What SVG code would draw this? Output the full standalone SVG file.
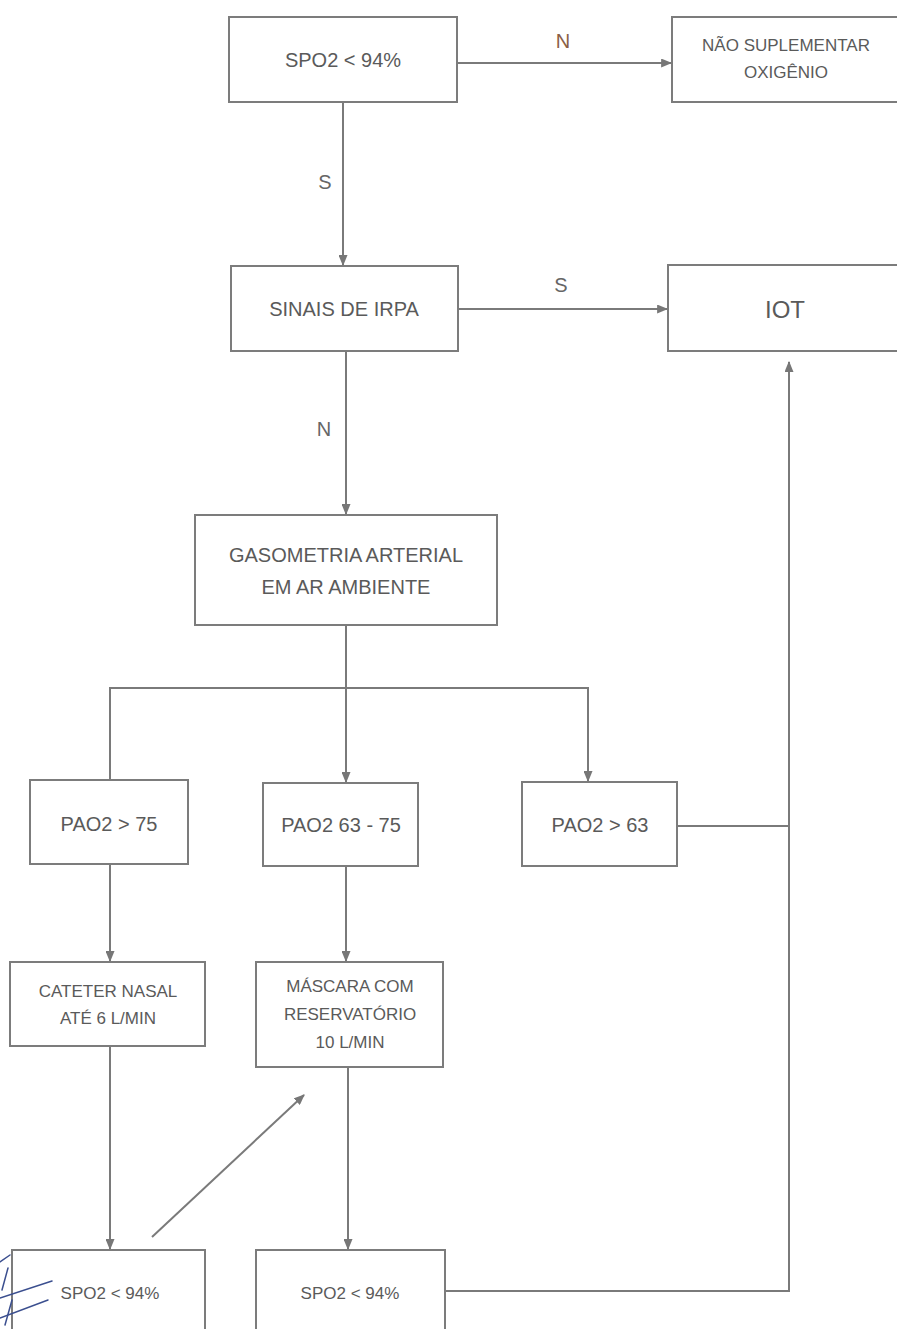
<svg xmlns="http://www.w3.org/2000/svg" width="897" height="1329" viewBox="0 0 897 1329">
<defs>
<style>
.box{fill:#fff;stroke:#7c7c7c;stroke-width:2}
.t{font-family:"Liberation Sans",Arial,sans-serif;fill:#5a5a5a;text-anchor:middle}
.m{font-size:20px}
.s{font-size:17px}
.c{stroke:#7a7a7a;stroke-width:2;fill:none}
.lbl{font-family:"Liberation Sans",Arial,sans-serif;font-size:20px;fill:#666;text-anchor:middle}
</style>
<marker id="ah" viewBox="0 0 10 10" refX="9" refY="5" markerWidth="11" markerHeight="9" orient="auto" markerUnits="userSpaceOnUse" preserveAspectRatio="none">
<path d="M0,0 L10,5 L0,10 z" fill="#777"/>
</marker>
</defs>
<rect width="897" height="1329" fill="#fff"/>
<g id="connectors">
<line class="c" x1="457" y1="63" x2="671" y2="63" marker-end="url(#ah)"/>
<line class="c" x1="343" y1="102" x2="343" y2="265" marker-end="url(#ah)"/>
<line class="c" x1="458" y1="309" x2="667" y2="309" marker-end="url(#ah)"/>
<line class="c" x1="346" y1="351" x2="346" y2="514" marker-end="url(#ah)"/>
<line class="c" x1="346" y1="625" x2="346" y2="782" marker-end="url(#ah)"/>
<polyline class="c" points="110,779 110,688 588,688 588,781" marker-end="url(#ah)"/>
<polyline class="c" points="677,826 789,826"/>
<polyline class="c" points="446,1291 789,1291 789,362" marker-end="url(#ah)"/>
<line class="c" x1="110" y1="864" x2="110" y2="961" marker-end="url(#ah)"/>
<line class="c" x1="346" y1="866" x2="346" y2="961" marker-end="url(#ah)"/>
<line class="c" x1="110" y1="1046" x2="110" y2="1249" marker-end="url(#ah)"/>
<line class="c" x1="348" y1="1067" x2="348" y2="1249" marker-end="url(#ah)"/>
<line class="c" x1="152" y1="1237" x2="304" y2="1095" marker-end="url(#ah)"/>
<text class="lbl" x="563" y="48" style="fill:#8b5e45">N</text>
<text class="lbl" x="325" y="189">S</text>
<text class="lbl" x="561" y="292">S</text>
<text class="lbl" x="324" y="436">N</text>
</g>
<g id="n1"><rect class="box" x="229" y="17" width="228" height="85"/><text class="t m" x="343" y="67">SPO2 &lt; 94%</text></g>
<g id="n2"><rect class="box" x="672" y="17" width="230" height="85"/><text class="t s" x="786" y="51">NÃO SUPLEMENTAR</text><text class="t s" x="786" y="78">OXIGÊNIO</text></g>
<g id="n3"><rect class="box" x="231" y="266" width="227" height="85"/><text class="t m" x="344" y="316">SINAIS DE IRPA</text></g>
<g id="n4"><rect class="box" x="668" y="265" width="234" height="86"/><text class="t" x="785" y="318" style="font-size:24px">IOT</text></g>
<g id="n5"><rect class="box" x="195" y="515" width="302" height="110"/><text class="t m" x="346" y="562">GASOMETRIA ARTERIAL</text><text class="t m" x="346" y="594">EM AR AMBIENTE</text></g>
<g id="n6"><rect class="box" x="30" y="780" width="158" height="84"/><text class="t m" x="109" y="831">PAO2 &gt; 75</text></g>
<g id="n7"><rect class="box" x="263" y="783" width="155" height="83"/><text class="t m" x="341" y="832">PAO2 63 - 75</text></g>
<g id="n8"><rect class="box" x="522" y="782" width="155" height="84"/><text class="t m" x="600" y="832">PAO2 &gt; 63</text></g>
<g id="n9"><rect class="box" x="10" y="962" width="195" height="84"/><text class="t s" x="108" y="997">CATETER NASAL</text><text class="t s" x="108" y="1024">ATÉ 6 L/MIN</text></g>
<g id="n10"><rect class="box" x="256" y="962" width="187" height="105"/><text class="t s" x="350" y="992">MÁSCARA COM</text><text class="t s" x="350" y="1020">RESERVATÓRIO</text><text class="t s" x="350" y="1048">10 L/MIN</text></g>
<g id="n11"><rect class="box" x="12" y="1250" width="193" height="95"/><text class="t s" x="110" y="1299">SPO2 &lt; 94%</text></g>
<g id="n12"><rect class="box" x="256" y="1250" width="189" height="95"/><text class="t s" x="350" y="1299">SPO2 &lt; 94%</text></g>
<g id="scribble" stroke="#3b4f8f" stroke-width="1.5" fill="none" stroke-linecap="round">
<path d="M0,1298 L52,1281"/>
<path d="M0,1318 L48,1300"/>
<path d="M0,1262 L10,1255"/>
<path d="M2,1290 L8,1268"/>
<path d="M5,1325 L12,1300"/>
</g>
</svg>
